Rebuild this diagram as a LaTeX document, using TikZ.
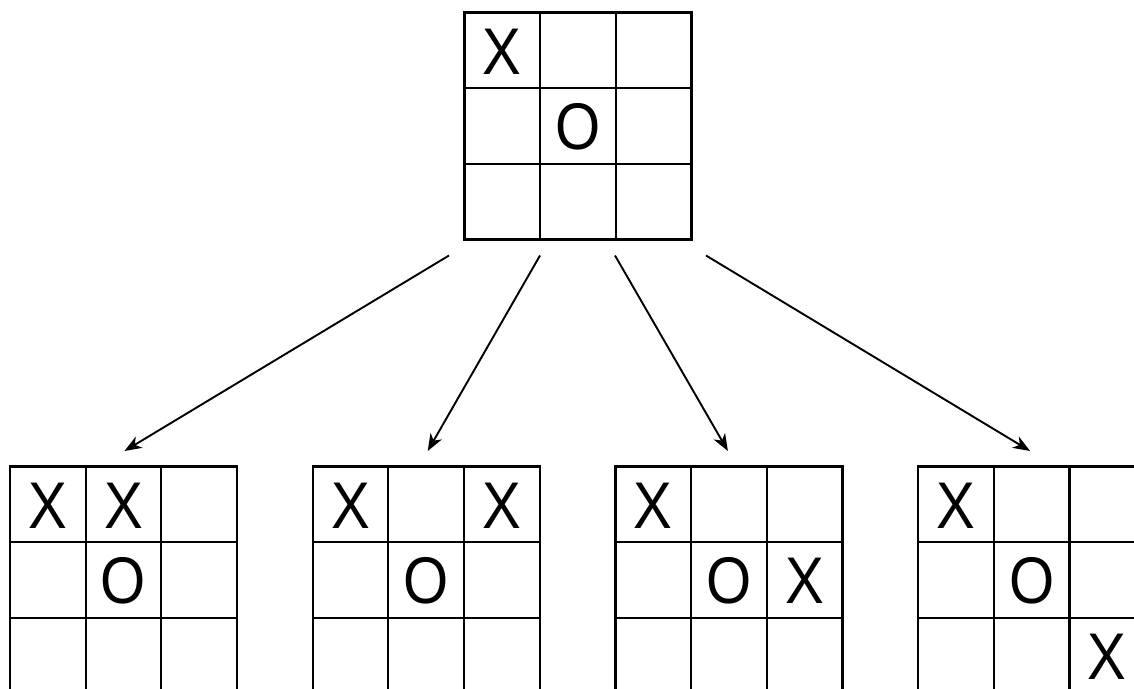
\documentclass[tikz,border=0pt]{standalone}
\usepackage{fontspec}
\setmainfont{Liberation Sans}
\usetikzlibrary{arrows.meta,calc}
\newcommand\tttboard[2]{%
  \node[boardbox,anchor=north west] (#1) at (#2) {};
  \draw[gridline] (#1.north west) rectangle (#1.south east);
  \foreach \k in {1,2} {
    \draw[gridline] ($(#1.north west)!\k/3!(#1.north east)$) -- ($(#1.south west)!\k/3!(#1.south east)$);
    \draw[gridline] ($(#1.north west)!\k/3!(#1.south west)$) -- ($(#1.north east)!\k/3!(#1.south east)$);
  }%
}
\newcommand\cellmark[4]{%
  \node[glyph] (#1c#2r#3) at ($(#1.north west)+({75.67*(#2+0.5)},{75.67*#3+61.5})$) {#4};%
}
\begin{document}
\begin{tikzpicture}[x=1pt,y=-1pt,
  boardbox/.style={draw=none,minimum width=227pt,minimum height=227pt,inner sep=0pt,outer sep=0pt},
  gridline/.style={line width=2.2pt,line cap=rect},
  glyph/.style={font=\fontsize{66}{66}\selectfont,inner sep=0pt,anchor=base,xscale=0.88,text height=46pt,text depth=0pt},
  arr/.style={line width=1.9pt,-{Stealth[length=17pt,width=13pt,inset=5pt]}}]
\useasboundingbox (0,0) rectangle (1134,688);
\clip (0,0) rectangle (1134,688);
\tttboard{top}{464.5,12.5}
\cellmark{top}{0}{0}{X}
\cellmark{top}{1}{1}{O}
\tttboard{ba}{10,466.5}
\cellmark{ba}{0}{0}{X}
\cellmark{ba}{1}{0}{X}
\cellmark{ba}{1}{1}{O}
\tttboard{bb}{312.7,466.5}
\cellmark{bb}{0}{0}{X}
\cellmark{bb}{2}{0}{X}
\cellmark{bb}{1}{1}{O}
\tttboard{bc}{615.4,466.5}
\cellmark{bc}{0}{0}{X}
\cellmark{bc}{1}{1}{O}
\cellmark{bc}{2}{1}{X}
\tttboard{bd}{918.1,466.5}
\cellmark{bd}{0}{0}{X}
\cellmark{bd}{1}{1}{O}
\cellmark{bd}{2}{2}{X}
\draw[arr] ($(top.south)+(-129,16)$) -- ($(ba.north)+(1,-15.5)$);
\draw[arr] ($(top.south)+(-38,16)$) -- ($(bb.north)+(1.5,-15.5)$);
\draw[arr] ($(top.south)+(37,16)$) -- ($(bc.north)+(-1,-15.5)$);
\draw[arr] ($(top.south)+(128,16)$) -- ($(bd.north)+(-1.5,-15.5)$);
\end{tikzpicture}
\end{document}
